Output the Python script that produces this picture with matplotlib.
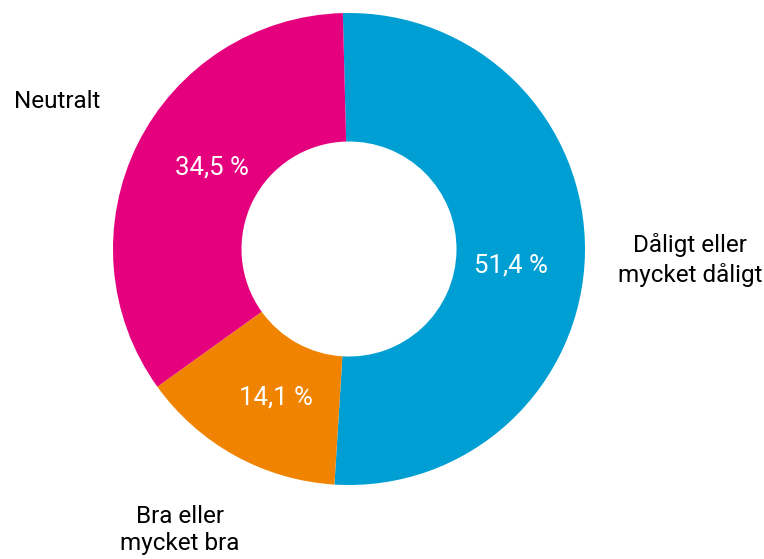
import matplotlib.pyplot as plt

labels = ["Dåligt eller\nmycket dåligt", "Bra eller\nmycket bra", "Neutralt"]
values = [51.4, 14.1, 34.5]
colors = ["#009FD3", "#F08300", "#E5007D"]

# label anchor points (x, y from bottom)
label_pos = [(690, 299), (180, 29), (57, 458)]
pct_pos = [(511, 294), (276, 161), (212, 392)]

plt.rcParams['font.family'] = ['Roboto', 'DejaVu Sans']

fig = plt.figure(figsize=(7.64, 5.59), dpi=100)
ax = fig.add_axes([0, 0, 1, 1])

wedges, texts, autotexts = ax.pie(
    values, labels=labels, colors=colors, startangle=91.5, counterclock=False,
    radius=236, center=(349, 310), labeldistance=1.42, pctdistance=0.7,
    autopct=lambda p: f"{p:.1f} %".replace(".", ","),
    wedgeprops=dict(width=128.5, linewidth=0),
    textprops=dict(fontsize=17.5, ha="center", va="center", linespacing=1.33),
)
for t, pos in zip(texts, label_pos):
    t.set_position(pos)
texts[1].set_linespacing(1.25)
for t, pos in zip(autotexts, pct_pos):
    t.set_color("white")
    t.set_fontsize(18.5)
    t.set_position(pos)

ax.set_xlim(0, 764)
ax.set_ylim(0, 559)
ax.set_aspect("equal")
ax.axis("off")

plt.savefig("out.png", dpi=100)
